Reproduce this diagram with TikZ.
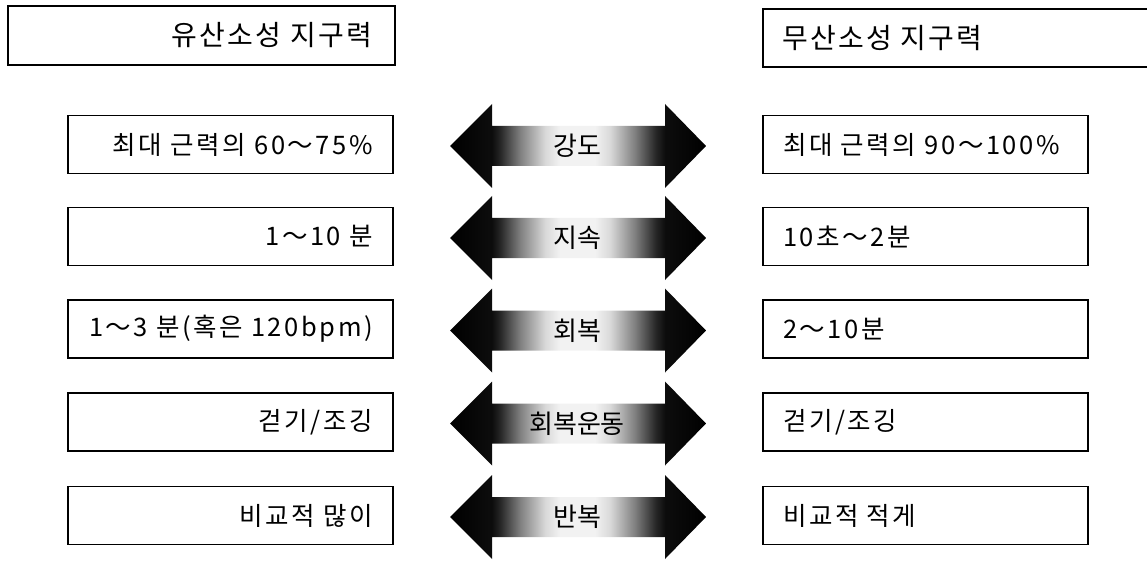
\documentclass[tikz,border=0pt]{standalone}
\usepackage{fontspec}
\setmainfont{Noto Sans CJK KR}
\newfontfamily\krfont{Noto Sans CJK KR}
\newfontfamily\krrow[LetterSpace=10]{Noto Sans CJK KR}
\newfontfamily\krtitle[LetterSpace=8]{Noto Sans CJK KR}
\newcommand{\wv}{\char"FF5E\relax}
\pgfdeclarehorizontalshading{arrowshade}{100bp}{%
color(0bp)=(black); color(25bp)=(black); color(33.2bp)=(black!95);
color(34.8bp)=(black!85); color(38.7bp)=(black!50); color(43.6bp)=(black!15);
color(46.5bp)=(black!5); color(53.3bp)=(black!5); color(56.3bp)=(black!15);
color(61.1bp)=(black!50); color(65.2bp)=(black!85); color(67bp)=(black!95);
color(75bp)=(black); color(100bp)=(black)}
\tikzset{
  box/.style={draw=black, line width=1.6pt},
  rowtext/.style={inner sep=0pt, font=\krrow\fontsize{25.5}{29}\selectfont},
  titletext/.style={inner sep=0pt, font=\krtitle\fontsize{28}{32}\selectfont},
  midtext/.style={inner sep=0pt, font=\krfont\fontsize{26}{30}\selectfont},
  dblarrow/.style={shading=arrowshade, draw=none}
}
\begin{document}
\begin{tikzpicture}[x=1pt,y=-1pt]
\useasboundingbox (0,0) rectangle (1147,561);
% titles
\draw[box] (8,6) rectangle (395,65);
\node[titletext, anchor=east] (tl) at (372,35.5) {유산소성 지구력};
\draw[box] (1160,9) -- (763,9) -- (763,67) -- (1160,67);
\node[titletext, anchor=west] (tr) at (782,38) {무산소성 지구력};
% rows
\foreach \i/\yc/\lt/\rt/\mt in {%
  1/144.5/{최대 근력의 60\wv 75\%}/{최대 근력의 90\wv 100\%}/{강도},
  2/236.5/{1\wv 10 분}/{10초\wv 2분}/{지속},
  3/329/{1\wv 3 분(혹은 120bpm)}/{2\wv 10분}/{회복},
  4/422/{걷기/조깅}/{걷기/조깅}/{회복운동},
  5/515.5/{비교적 많이}/{비교적 적게}/{반복}}{
  \draw[box] (68,\yc-29) rectangle (393,\yc+29);
  \node[rowtext, anchor=east] (l\i) at (373,\yc) {\lt};
  \draw[box] (763,\yc-29) rectangle (1088,\yc+29);
  \node[rowtext, anchor=west] (r\i) at (783,\yc) {\rt};
  \path[dblarrow] (450,\yc+1.5) -- (492,\yc-40.5) -- (492,\yc-18.5) -- (665,\yc-18.5)
     -- (665,\yc-40.5) -- (706,\yc+1.5) -- (665,\yc+43.5) -- (665,\yc+21.5)
     -- (492,\yc+21.5) -- (492,\yc+43.5) -- cycle;
  \node[midtext] (m\i) at (577,\yc+1.5) {\mt};
}
\end{tikzpicture}
\end{document}
